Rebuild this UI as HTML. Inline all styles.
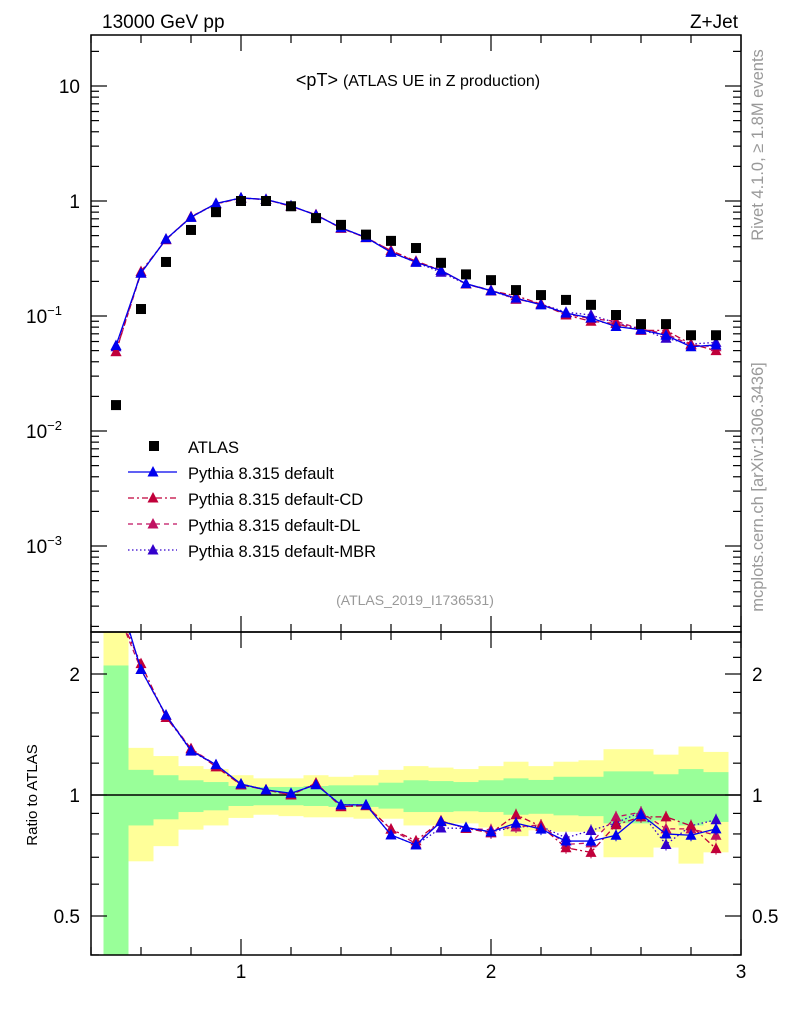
<!DOCTYPE html>
<html><head><meta charset="utf-8"><style>
html,body{margin:0;padding:0;background:#fff;}
svg{display:block;font-family:"Liberation Sans",sans-serif;}
</style></head><body>
<svg id="chart" width="786" height="1024" viewBox="0 0 786 1024" xmlns="http://www.w3.org/2000/svg">
<defs>
<clipPath id="clipMain"><rect x="91" y="35" width="650" height="597"/></clipPath>
<clipPath id="clipRatio"><rect x="91" y="632" width="650" height="323"/></clipPath>
</defs>
<g id="bands" clip-path="url(#clipRatio)"></g>
<g id="marks"></g>
<g id="axes"></g>
<text x="102" y="28" font-size="19">13000 GeV pp</text>
<text x="738" y="28" font-size="19" text-anchor="end">Z+Jet</text>
<text x="418" y="86" font-size="18" text-anchor="middle">&lt;pT&gt; <tspan font-size="16">(ATLAS UE in Z production)</tspan></text>
<text x="415" y="605" font-size="14" fill="#999" text-anchor="middle">(ATLAS_2019_I1736531)</text>
<text transform="translate(763,145) rotate(-90)" font-size="16.5" fill="#999" text-anchor="middle">Rivet 4.1.0, ≥ 1.8M events</text>
<text transform="translate(763,487) rotate(-90)" font-size="16.5" fill="#999" text-anchor="middle">mcplots.cern.ch [arXiv:1306.3436]</text>
<text transform="translate(37,795) rotate(-90)" font-size="15" text-anchor="middle">Ratio to ATLAS</text>
<g id="legend"></g>
</svg>
<script>
const xs = [0.5,0.6,0.7,0.8,0.9,1.0,1.1,1.2,1.3,1.4,1.5,1.6,1.7,1.8,1.9,2.0,2.1,2.2,2.3,2.4,2.5,2.6,2.7,2.8,2.9];
const atlas = [0.0168,0.115,0.295,0.56,0.80,1.0,1.0,0.90,0.71,0.62,0.51,0.45,0.39,0.29,0.23,0.205,0.168,0.152,0.138,0.125,0.102,0.085,0.085,0.068,0.068];
const mcDefault = [0.0554,0.236,0.466,0.722,0.952,1.065,1.03,0.909,0.753,0.586,0.482,0.358,0.293,0.249,0.191,0.166,0.143,0.125,0.106,0.096,0.081,0.076,0.068,0.054,0.056];
const mcCD = [0.049,0.244,0.46,0.73,0.94,1.06,1.03,0.90,0.76,0.58,0.48,0.37,0.30,0.25,0.19,0.165,0.15,0.127,0.102,0.09,0.086,0.075,0.075,0.057,0.050];
const mcDL = [0.049,0.236,0.465,0.73,0.95,1.06,1.03,0.90,0.76,0.58,0.48,0.37,0.295,0.25,0.19,0.168,0.14,0.128,0.104,0.095,0.09,0.077,0.07,0.056,0.054];
const mcMBR = [0.054,0.236,0.466,0.72,0.95,1.065,1.03,0.905,0.755,0.586,0.482,0.358,0.293,0.24,0.19,0.166,0.14,0.127,0.108,0.102,0.087,0.077,0.064,0.057,0.059];
const totUp = [3,1.31,1.25,1.18,1.16,1.12,1.10,1.10,1.12,1.11,1.12,1.155,1.18,1.17,1.16,1.18,1.21,1.18,1.21,1.22,1.30,1.30,1.26,1.32,1.28];
const totDn = [0.3,0.684,0.746,0.82,0.84,0.877,0.893,0.886,0.88,0.88,0.873,0.873,0.84,0.84,0.85,0.83,0.79,0.817,0.81,0.81,0.70,0.70,0.74,0.675,0.72];
const statUp = [2.1,1.155,1.12,1.088,1.077,1.053,1.047,1.047,1.053,1.057,1.057,1.073,1.088,1.083,1.077,1.088,1.10,1.09,1.11,1.11,1.145,1.145,1.126,1.16,1.14];
const statDn = [0.3,0.84,0.87,0.907,0.916,0.939,0.943,0.943,0.939,0.934,0.934,0.925,0.907,0.907,0.911,0.907,0.893,0.898,0.89,0.886,0.85,0.85,0.865,0.84,0.857];
const xTickLabels = ["1","2","3"];
const xTickValues = [1,2,3];
const yMainTickLabels = ["10","1","10","10","10"];
const yMainTickExp = ["","","−1","−2","−3"];
const yMainTickValues = [10,1,0.1,0.01,0.001];
const yRatioTickValues = [0.5,1,2];
const yRatioTickLabels = ["0.5","1","2"];

const NS="http://www.w3.org/2000/svg";
const X0=91,X1=741,YT=35,YM=632,YB=955;
const xMin=0.4,xMax=3.0;
function sx(v){return X0+(v-xMin)/(xMax-xMin)*(X1-X0);}
function syMain(v){return 201-Math.log10(v)*115;}
function syRatio(v){return 795-Math.log2(v)*121;}
function mk(tag,attrs,parent){const e=document.createElementNS(NS,tag);for(const k in attrs)e.setAttribute(k,attrs[k]);parent.appendChild(e);return e;}
const bands=document.getElementById('bands'),marks=document.getElementById('marks'),axes=document.getElementById('axes'),legend=document.getElementById('legend');
const bw=0.1;
xs.forEach((x,i)=>{
  const a=sx(x-bw/2),b=sx(x+bw/2);
  const y1=mk('rect',{x:a,y:syRatio(totUp[i]),width:b-a,height:syRatio(totDn[i])-syRatio(totUp[i]),fill:'#ffff99'},bands);
  
  
  const g1=mk('rect',{x:a,y:syRatio(statUp[i]),width:b-a,height:syRatio(statDn[i])-syRatio(statUp[i]),fill:'#99ff99'},bands);
  
  
});
const ref=mk('line',{x1:X0,x2:X1,y1:syRatio(1),y2:syRatio(1),stroke:'#000','stroke-width':1.5},marks);


const series=[
 {d:mcDefault,c:'#0000ee',dash:'',name:'pythia-default'},
 {d:mcCD,c:'#c0003a',dash:'6,3,2,3',name:'pythia-default-cd'},
 {d:mcDL,c:'#c01060',dash:'5,4',name:'pythia-default-dl'},
 {d:mcMBR,c:'#3300cc',dash:'1.5,2.5',name:'pythia-default-mbr'}
];
function tri(x,y,c,parent,name){
  const p=mk('polygon',{points:`${x},${y-6} ${x-5.5},${y+4.5} ${x+5.5},${y+4.5}`,fill:c},parent);
  
  
}
const gm=mk('g',{'clip-path':'url(#clipMain)'},marks);
const gr=mk('g',{'clip-path':'url(#clipRatio)'},marks);
series.slice().reverse().forEach(s=>{
  const pm=xs.map((x,i)=>`${sx(x)},${syMain(s.d[i])}`).join(' ');
  const l=mk('polyline',{points:pm,fill:'none',stroke:s.c,'stroke-width':1.3,'stroke-dasharray':s.dash},gm);
  
  
  const pr=xs.map((x,i)=>`${sx(x)},${syRatio(s.d[i]/atlas[i])}`).join(' ');
  const lr=mk('polyline',{points:pr,fill:'none',stroke:s.c,'stroke-width':1.3,'stroke-dasharray':s.dash},gr);
  
  
  xs.forEach((x,i)=>{
    tri(sx(x),syMain(s.d[i]),s.c,gm,s.name+'-point');
    const r=s.d[i]/atlas[i];
    if(x>=2.0){
      const e=mk('line',{x1:sx(x),x2:sx(x),y1:syRatio(r*1.035),y2:syRatio(r/1.035),stroke:s.c,'stroke-width':1},gr);
      
      
    }
    tri(sx(x),syRatio(r),s.c,gr,s.name+'-ratio-point');
  });
});
xs.forEach((x,i)=>{
  const r=mk('rect',{x:sx(x)-5,y:syMain(atlas[i])-5,width:10,height:10,fill:'#000'},gm);
  
  
});
[[YT,YM],[YM,YB]].forEach(([a,b])=>{
  const f=mk('rect',{x:X0,y:a,width:X1-X0,height:b-a,fill:'none',stroke:'#000','stroke-width':1.5},axes);
  
  
});
function tick(x1,y1,x2,y2){mk('line',{x1,y1,x2,y2,stroke:'#000','stroke-width':1.2},axes);}
for(let k=0;k<=13;k++){
  const v=0.4+k*0.2; const X=sx(v); const major=Math.abs(v-Math.round(v))<1e-6;
  const L=major?16:8;
  [[YT,1],[YM,-1],[YM,1],[YB,-1]].forEach(([y,d])=>tick(X,y,X,y+d*L));
}
xTickValues.forEach((v,i)=>{
  const t=mk('text',{x:sx(v),y:978,'font-size':19,'text-anchor':'middle'},axes);
  t.textContent=xTickLabels[i];
  
  
});
for(let e=-4;e<=1;e++){
  for(let m=1;m<=9;m++){
    const v=m*Math.pow(10,e); const Y=syMain(v);
    if(Y<YT||Y>YM)continue;
    const L=m===1?16:8;
    tick(X0,Y,X0+L,Y); tick(X1,Y,X1-L,Y);
  }
}
yMainTickValues.forEach((v,i)=>{
  const t=mk('text',{x:80,y:syMain(v)+7,'font-size':19,'text-anchor':'end'},axes);
  
  
  if(yMainTickExp[i]){
    t.textContent=yMainTickLabels[i];
    t.setAttribute('x',62);
    const s=mk('tspan',{'font-size':13,dy:-8},t); s.textContent=yMainTickExp[i];
  } else t.textContent=yMainTickLabels[i];
});
[0.4,0.5,0.6,0.7,0.8,0.9,1,1.2,1.4,1.6,1.8,2,2.2,2.4].forEach(v=>{
  const Y=syRatio(v); if(Y<YM||Y>YB)return;
  const L=(v===0.5||v===1||v===2)?16:8;
  tick(X0,Y,X0+L,Y); tick(X1,Y,X1-L,Y);
});
yRatioTickValues.forEach((v,i)=>{
  [[80,'end'],[752,'start']].forEach(([x,a])=>{
    const t=mk('text',{x,y:syRatio(v)+7,'font-size':19,'text-anchor':a},axes);
    t.textContent=yRatioTickLabels[i];
    
    
  });
});
const lr0=mk('rect',{x:149,y:441,width:10,height:10,fill:'#000'},legend);


const legNames=['ATLAS','Pythia 8.315 default','Pythia 8.315 default-CD','Pythia 8.315 default-DL','Pythia 8.315 default-MBR'];
legNames.forEach((n,i)=>{
  const y=453+i*26;
  const t=mk('text',{x:188,y:y,'font-size':16.5},legend);
  t.textContent=n;
  
  
  if(i>0){
    const s=series[i-1];
    const l=mk('line',{x1:128,x2:177,y1:y-7,y2:y-7,stroke:s.c,'stroke-width':1.3,'stroke-dasharray':s.dash},legend);
    
    
    tri(153,y-7,s.c,legend,'legend-marker');
  }
});
</script>
</body></html>
